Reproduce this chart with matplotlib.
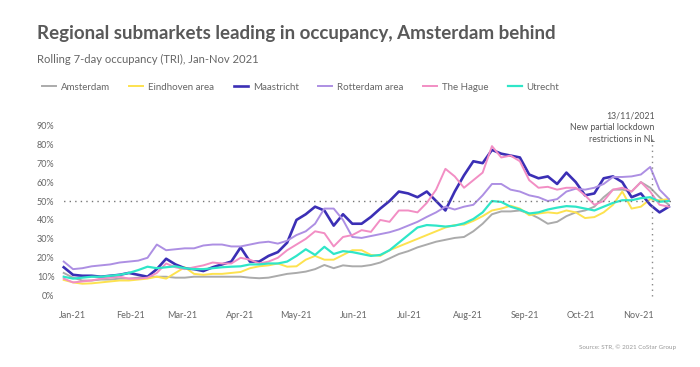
import matplotlib
matplotlib.use("Agg")
import matplotlib.pyplot as plt
import matplotlib.dates as mdates
import matplotlib.transforms as mtransforms
import pandas as pd

plt.rcParams['font.family'] = ['Lato', 'DejaVu Sans']

# one reading every 5 days from 1 Jan 2021
dates = pd.date_range("2021-01-01", periods=66, freq="5D")

amsterdam = [12, 9.5, 8, 8, 8.5, 8.5, 9, 9, 9.5, 10,
             10, 10, 9.5, 9.5, 10, 10, 10, 10, 10, 10,
             9.5, 9.2, 9.5, 10.5, 11.5, 12, 12.7, 14, 16.2, 14.5,
             16, 15.5, 15.5, 16.2, 17.5, 19.7, 22, 23.5, 25.5, 27,
             28.5, 29.5, 30.5, 31, 34, 38, 43, 44.5, 44.5, 45,
             43.4, 41, 38, 39, 42, 44, 45, 47, 52, 56,
             56, 55, 60, 57, 52, 48]
eindhoven = [8.3, 7, 6.3, 6.5, 7, 7.5, 8, 8, 8.5, 9,
             10, 9, 12, 15, 11.5, 11, 11.5, 11.5, 12, 12.5,
             14.5, 15.5, 16, 17, 15.3, 15.5, 19, 21, 19, 19,
             21.5, 24, 24, 21.5, 21, 24, 26, 28, 30, 32,
             34, 36, 37.3, 37.5, 39.5, 42, 45, 46, 47.5, 46,
             42.5, 43.4, 44, 43.5, 45, 44, 41, 41.5, 44, 48,
             55, 46, 47, 51, 50.4, 51]
maastricht = [15, 11, 10.5, 10.5, 10, 10.5, 11, 12, 11, 10,
              14, 19.5, 16.5, 14.5, 14, 13, 15, 16.5, 18, 25.5,
              18, 18, 21, 23, 28, 40, 43, 47, 45, 37,
              43, 38, 38, 41.6, 46, 50, 55, 54, 52, 55,
              50, 45, 55, 63.6, 71, 70, 77, 75, 74, 73,
              64, 62, 63, 59, 65, 60, 53, 54, 62, 63,
              60, 52, 54, 48, 44, 47]
rotterdam = [18, 14, 14.5, 15.5, 16, 16.5, 17.5, 18, 18.5, 20,
             27, 24, 24.5, 25, 25, 26.5, 27, 27, 26, 26,
             27, 28, 28.5, 27.5, 29, 32, 34, 38, 46, 46,
             40, 31, 30.5, 31.5, 32.5, 33.5, 35, 37, 39, 41.6,
             44, 47, 45.5, 47, 48, 53, 59, 59, 56, 55,
             53, 52, 50, 51, 55, 56.5, 56, 57, 59, 62.7,
             62.7, 63, 64, 68, 56, 51]
the_hague = [9, 7, 7.5, 8, 9, 9.5, 10, 9, 9, 9.5,
             12, 17, 15, 14, 15, 16, 17.5, 17, 17, 20,
             19, 17, 18, 20, 24, 27, 30, 34, 33, 26,
             31, 32, 34.6, 33.7, 40, 39, 45, 45, 44, 49,
             56, 67, 63, 57, 61, 65, 79, 73, 74, 71,
             61, 57, 57.5, 56, 57, 57, 53, 48, 50, 56,
             57, 55, 60, 55, 48, 47]
utrecht = [10, 9, 9.5, 10, 10, 10.5, 11, 12, 13.5, 15.3,
           14.5, 15, 15.5, 14.5, 14, 14, 14.5, 15, 15.3, 15.5,
           16.5, 16.5, 17, 17, 18, 21, 24.5, 21.5, 25.8, 22,
           23.5, 23, 22, 21, 21.5, 24, 28, 32, 36, 37.3,
           37, 36.5, 37, 38.2, 40.5, 44, 50, 49.5, 47, 45.5,
           43.4, 44, 45.5, 46.5, 47.3, 47, 46, 45, 47, 49,
           50.4, 50.4, 51.5, 52, 49.6, 50]

names = ["Amsterdam", "Eindhoven area", "Maastricht", "Rotterdam area", "The Hague", "Utrecht"]
series = [amsterdam, eindhoven, maastricht, rotterdam, the_hague, utrecht]
colors = ["#ababab", "#fde24f", "#3b2fb5", "#ad8fe3", "#f28ec4", "#2fe6c8"]
widths = [1.4, 1.4, 1.9, 1.4, 1.4, 1.6]

lockdown = pd.Timestamp("2021-11-13")
months = pd.date_range("2021-01-01", "2021-11-01", freq="MS")

fig = plt.figure(figsize=(7, 3.67), dpi=100)
ax = fig.add_axes([60/700, 1-300/367, 620/700, 180/367])

handles = []
for name, vals, c, w in zip(names, series, colors, widths):
    h, = ax.plot(dates, vals, color=c, lw=w, label=name)
    handles.append(h)

ax.hlines(50, pd.Timestamp("2020-12-29"), pd.Timestamp("2021-11-24"),
          colors="#777777", linestyles=(0, (1, 3)), lw=1)
ax.vlines(lockdown, 0, 83, colors="#888888", linestyles=(0, (1, 3)), lw=1)
ax.text(lockdown + pd.Timedelta(days=1.5), 97.5,
        "13/11/2021\nNew partial lockdown\nrestrictions in NL",
        ha="right", va="top", fontsize=6.3, color="#555555", linespacing=1.45)

ax.set_xlim(pd.Timestamp("2020-12-30"), pd.Timestamp("2021-11-28"))
ax.set_ylim(-2.3, 92.8)
ax.set_yticks(range(0, 100, 10))
ax.set_yticklabels([f"{v}%" for v in range(0, 100, 10)])
ax.set_xticks(months)
ax.xaxis.set_major_formatter(mdates.DateFormatter("%b-%y"))
ax.tick_params(length=0, labelsize=6.5, colors="#666666")
ax.tick_params(axis="y", pad=4)
ax.tick_params(axis="x", pad=8)
shift = mtransforms.ScaledTranslation(0.09, 0, fig.dpi_scale_trans)
for lab in ax.get_xticklabels():
    lab.set_transform(lab.get_transform() + shift)
for s in ax.spines.values():
    s.set_visible(False)

fig.text(37/700, 1-25/367, "Regional submarkets leading in occupancy, Amsterdam behind",
         fontsize=13.5, fontweight="bold", color="#595959", va="top")
fig.text(37/700, 1-54/367, "Rolling 7-day occupancy (TRI), Jan-Nov 2021",
         fontsize=8.1, color="#666666", va="top")
fig.legend(handles=handles, loc="upper left", bbox_to_anchor=(33/700, 1-74/367),
           ncol=6, frameon=False, fontsize=7, handlelength=1.45, handletextpad=0.5,
           columnspacing=2.0, labelcolor="#666666")
fig.text(676/700, 1-347/367, "Source: STR, \u00a9 2021 CoStar Group",
         fontsize=4.5, color="#999999", ha="right", va="center")

fig.savefig("out.png", dpi=100, facecolor="white")
